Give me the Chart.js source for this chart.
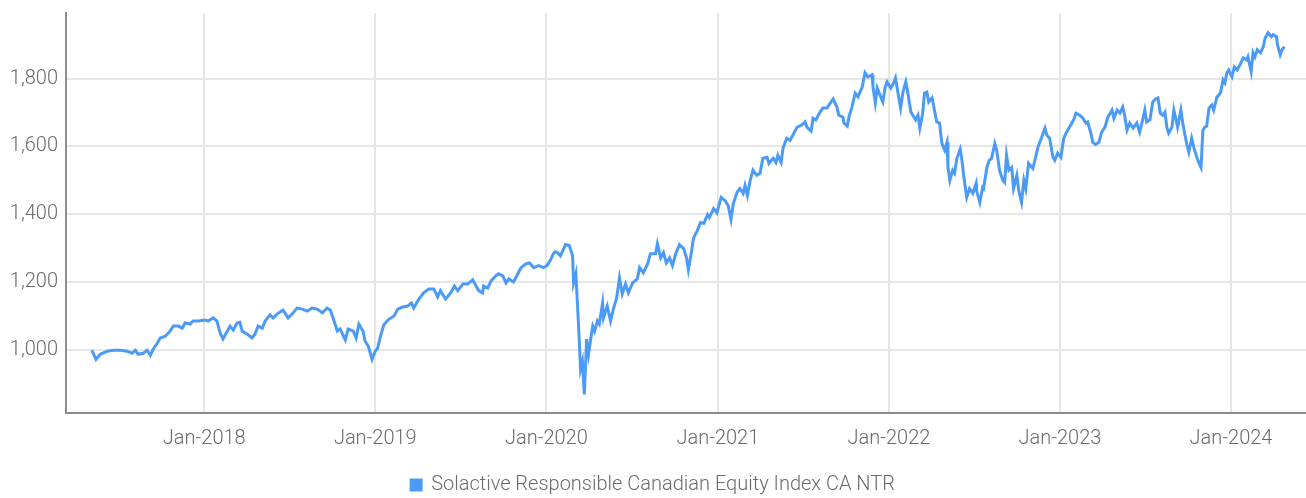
<!DOCTYPE html>
<html>
<head>
<meta charset="utf-8">
<script src="https://cdn.jsdelivr.net/npm/chart.js@4.4.0/dist/chart.umd.min.js"></script>
<style>
  html, body { margin: 0; padding: 0; background: #fff; }
  #wrap { width: 1306px; height: 498px; position: relative; }
</style>
</head>
<body>
<div id="wrap"><canvas id="chart"></canvas></div>
<script>
const seriesName = 'Solactive Responsible Canadian Equity Index CA NTR';

const dates = [
    // 2017
    '2017-05-06','2017-05-15','2017-05-24','2017-06-08','2017-06-21','2017-07-06','2017-07-20','2017-07-31',
    '2017-08-07','2017-08-13','2017-08-24','2017-09-01','2017-09-08','2017-09-14','2017-09-23','2017-09-29',
    '2017-10-10','2017-10-20','2017-10-27','2017-11-07','2017-11-15','2017-11-21','2017-12-02','2017-12-08',
    '2017-12-19',
    // 2018
    '2018-01-03','2018-01-09','2018-01-20','2018-01-28','2018-02-04','2018-02-10','2018-02-19','2018-02-25',
    '2018-03-04','2018-03-12','2018-03-18','2018-03-23','2018-04-03','2018-04-13','2018-04-19','2018-04-26',
    '2018-05-05','2018-05-11','2018-05-21','2018-05-28','2018-06-06','2018-06-18','2018-06-29','2018-07-08',
    '2018-07-18','2018-07-29','2018-08-09','2018-08-19','2018-08-30','2018-09-10','2018-09-20','2018-09-27',
    '2018-10-03','2018-10-12','2018-10-18','2018-10-29','2018-11-04','2018-11-15','2018-11-21','2018-11-27',
    '2018-12-06','2018-12-10','2018-12-17','2018-12-25',
    // 2019
    '2019-01-01','2019-01-06','2019-01-12','2019-01-19','2019-01-29','2019-02-10','2019-02-18','2019-02-28',
    '2019-03-11','2019-03-19','2019-03-24','2019-04-03','2019-04-14','2019-04-25','2019-05-06','2019-05-14',
    '2019-05-20','2019-05-31','2019-06-11','2019-06-19','2019-06-26','2019-07-07','2019-07-17','2019-07-28',
    '2019-08-04','2019-08-10','2019-08-18','2019-08-20','2019-08-29','2019-09-05','2019-09-15','2019-09-21',
    '2019-09-30','2019-10-07','2019-10-13','2019-10-23','2019-10-30','2019-11-08','2019-11-18','2019-11-26',
    '2019-12-05','2019-12-16','2019-12-26',
    // 2020
    '2020-01-03','2020-01-10','2020-01-16','2020-01-20','2020-01-25','2020-01-31','2020-02-11','2020-02-19',
    '2020-02-26','2020-02-28','2020-03-04','2020-03-07','2020-03-10','2020-03-14','2020-03-18','2020-03-22',
    '2020-03-27','2020-03-31','2020-04-05','2020-04-09','2020-04-13','2020-04-19','2020-04-23','2020-04-30',
    '2020-05-02','2020-05-10','2020-05-17','2020-05-23','2020-05-30','2020-06-05','2020-06-11','2020-06-18',
    '2020-06-24','2020-07-03','2020-07-13','2020-07-18','2020-07-26','2020-08-04','2020-08-10','2020-08-21',
    '2020-08-25','2020-09-01','2020-09-07','2020-09-13','2020-09-20','2020-09-26','2020-10-03','2020-10-11',
    '2020-10-20','2020-10-26','2020-10-30','2020-11-06','2020-11-10','2020-11-18','2020-11-25','2020-12-02',
    '2020-12-10','2020-12-14','2020-12-23','2020-12-30',
    // 2021
    '2021-01-08','2021-01-16','2021-01-23','2021-01-29','2021-02-03','2021-02-11','2021-02-17','2021-02-24',
    '2021-02-28','2021-03-05','2021-03-11','2021-03-17','2021-03-25','2021-04-01','2021-04-07','2021-04-16',
    '2021-04-20','2021-04-29','2021-05-05','2021-05-09','2021-05-16','2021-05-20','2021-05-28','2021-06-04',
    '2021-06-10','2021-06-19','2021-06-29','2021-07-06','2021-07-10','2021-07-19','2021-07-23','2021-07-29',
    '2021-08-07','2021-08-13','2021-08-22','2021-08-26','2021-09-04','2021-09-12','2021-09-16','2021-09-25',
    '2021-09-27','2021-10-04','2021-10-08','2021-10-14','2021-10-21','2021-10-27','2021-11-05','2021-11-11',
    '2021-11-17','2021-11-26','2021-11-28','2021-12-03','2021-12-07','2021-12-13','2021-12-19','2021-12-24',
    '2021-12-28',
    // 2022
    '2022-01-05','2022-01-11','2022-01-15','2022-01-20','2022-01-26','2022-01-31','2022-02-06','2022-02-10',
    '2022-02-17','2022-02-21','2022-02-27','2022-03-04','2022-03-08','2022-03-14','2022-03-18','2022-03-23',
    '2022-03-27','2022-04-03','2022-04-09','2022-04-13','2022-04-19','2022-04-24','2022-04-30','2022-05-05',
    '2022-05-07','2022-05-11','2022-05-17','2022-05-21','2022-05-26','2022-06-02','2022-06-05','2022-06-10',
    '2022-06-16','2022-06-22','2022-06-29','2022-07-06','2022-07-07','2022-07-14','2022-07-20','2022-07-22',
    '2022-07-29','2022-08-03','2022-08-08','2022-08-15','2022-08-19','2022-08-25','2022-09-01','2022-09-05',
    '2022-09-09','2022-09-14','2022-09-20','2022-09-24','2022-10-01','2022-10-05','2022-10-11','2022-10-16',
    '2022-10-20','2022-10-26','2022-11-04','2022-11-10','2022-11-15','2022-11-23','2022-11-30','2022-12-04',
    '2022-12-10','2022-12-17','2022-12-21','2022-12-27',
    // 2023
    '2023-01-03','2023-01-09','2023-01-15','2023-01-24','2023-01-30','2023-02-04','2023-02-12','2023-02-19',
    '2023-02-25','2023-03-01','2023-03-08','2023-03-12','2023-03-18','2023-03-25','2023-03-31','2023-04-07',
    '2023-04-13','2023-04-22','2023-04-26','2023-05-03','2023-05-09','2023-05-15','2023-05-19','2023-05-24',
    '2023-05-30','2023-06-06','2023-06-14','2023-06-20','2023-06-27','2023-07-01','2023-07-05','2023-07-12',
    '2023-07-18','2023-07-24','2023-07-29','2023-08-03','2023-08-08','2023-08-13','2023-08-17','2023-08-21',
    '2023-08-28','2023-09-01','2023-09-05','2023-09-09','2023-09-16','2023-09-20','2023-09-24','2023-09-29',
    '2023-10-03','2023-10-09','2023-10-14','2023-10-20','2023-10-24','2023-10-29','2023-11-02','2023-11-06',
    '2023-11-10','2023-11-15','2023-11-21','2023-11-25','2023-12-02','2023-12-06','2023-12-10','2023-12-15',
    '2023-12-19','2023-12-23','2023-12-27',
    // 2024
    '2024-01-03','2024-01-08','2024-01-14','2024-01-20','2024-01-27','2024-02-03','2024-02-06','2024-02-13',
    '2024-02-17','2024-02-21','2024-02-26','2024-03-04','2024-03-10','2024-03-14','2024-03-20','2024-03-27',
    '2024-03-31','2024-04-07','2024-04-09','2024-04-15','2024-04-19','2024-04-24'
];

const indexLevels = [
    // 2017
    1000, 973, 988, 997, 1000, 1000, 997, 991,
    1000, 988, 991, 1000, 985, 1003, 1021, 1036,
    1041, 1056, 1071, 1071, 1065, 1080, 1077, 1086,
    1086,
    // 2018
    1089, 1086, 1095, 1086, 1050, 1033, 1056, 1071,
    1059, 1080, 1082, 1056, 1047, 1036, 1047, 1071,
    1065, 1086, 1104, 1095, 1107, 1118, 1095, 1107,
    1124, 1121, 1115, 1124, 1121, 1110, 1124, 1118,
    1095, 1056, 1062, 1030, 1062, 1056, 1036, 1077,
    1056, 1027, 1012, 973,
    // 2019
    997, 1006, 1041, 1074, 1090, 1101, 1121, 1127,
    1130, 1139, 1124, 1148, 1169, 1180, 1180, 1157,
    1175, 1151, 1169, 1189, 1175, 1195, 1195, 1207,
    1189, 1175, 1169, 1189, 1183, 1204, 1219, 1225,
    1219, 1198, 1210, 1201, 1219, 1243, 1254, 1257,
    1243, 1249, 1243,
    // 2020
    1250, 1266, 1284, 1290, 1287, 1278, 1311, 1308,
    1278, 1198, 1225, 1145, 1065, 944, 967, 870,
    1033, 988, 1036, 1071, 1056, 1086, 1077, 1139,
    1095, 1130, 1086, 1121, 1154, 1213, 1166, 1195,
    1169, 1198, 1210, 1243, 1228, 1254, 1284, 1284,
    1314, 1272, 1287, 1257, 1272, 1249, 1284, 1311,
    1299, 1272, 1237, 1293, 1330, 1352, 1376, 1373,
    1399, 1391, 1417, 1405,
    // 2021
    1450, 1441, 1426, 1385, 1432, 1465, 1476, 1462,
    1485, 1456, 1500, 1530, 1515, 1521, 1565, 1568,
    1550, 1565, 1553, 1574, 1553, 1595, 1624, 1618,
    1633, 1657, 1663, 1672, 1657, 1645, 1683, 1678,
    1701, 1713, 1713, 1722, 1740, 1716, 1692, 1686,
    1669, 1660, 1688, 1716, 1757, 1746, 1775, 1817,
    1805, 1811, 1775, 1728, 1772, 1751, 1731, 1775,
    1790,
    // 2022
    1772, 1787, 1802, 1760, 1713, 1760, 1790, 1760,
    1701, 1692, 1678, 1692, 1654, 1698, 1757, 1760,
    1731, 1743, 1701, 1672, 1669, 1609, 1589, 1612,
    1538, 1500, 1530, 1521, 1565, 1592, 1568, 1509,
    1450, 1476, 1462, 1491, 1470, 1435, 1479, 1476,
    1538, 1559, 1565, 1609, 1589, 1530, 1500, 1494,
    1574, 1530, 1538, 1476, 1515, 1470, 1435, 1500,
    1476, 1550, 1535, 1568, 1598, 1627, 1654, 1633,
    1624, 1568, 1559, 1580,
    // 2023
    1568, 1624, 1642, 1663, 1678, 1698, 1692, 1683,
    1669, 1672, 1639, 1612, 1606, 1612, 1642, 1657,
    1686, 1707, 1683, 1707, 1698, 1716, 1692, 1648,
    1669, 1654, 1669, 1642, 1682, 1707, 1672, 1678,
    1731, 1740, 1743, 1698, 1692, 1701, 1657, 1639,
    1657, 1707, 1683, 1657, 1707, 1669, 1639, 1604,
    1583, 1624, 1595, 1568, 1553, 1538, 1648, 1657,
    1660, 1713, 1722, 1707, 1746, 1751, 1760, 1796,
    1787, 1817, 1825,
    // 2024
    1805, 1834, 1825, 1840, 1861, 1855, 1864, 1820,
    1876, 1864, 1885, 1876, 1894, 1920, 1935, 1923,
    1929, 1923, 1900, 1870, 1885, 1894
];

const yearTicks = [2018, 2019, 2020, 2021, 2022, 2023, 2024];
const valueTicks = [1000, 1200, 1400, 1600, 1800];

const lineColor = '#4b9bf6';
const gridColor = '#e6e6e6';
const axisColor = '#8c8c8c';
const textColor = '#6b6b6b';

Chart.defaults.font.family = 'Roboto, "Noto Sans", sans-serif';
Chart.defaults.font.size = 20;
Chart.defaults.font.weight = '300';
Chart.defaults.color = textColor;

const points = dates.map((d, i) => ({ x: Date.parse(d), y: indexLevels[i] }));

// keep tick labels from pushing the plot area inwards
const noLabelPadding = (scale) => {
    scale.paddingTop = 0;
    scale.paddingBottom = 0;
    scale.paddingLeft = 0;
    scale.paddingRight = 0;
};

const ctx = document.getElementById('chart');

new Chart(ctx, {
    type: 'line',
    data: {
        datasets: [{
            label: seriesName,
            data: points,
            borderColor: lineColor,
            backgroundColor: lineColor,
            borderWidth: 3,
            pointRadius: 0,
            tension: 0,
            fill: false
        }]
    },
    options: {
        responsive: true,
        maintainAspectRatio: false,
        animation: false,
        devicePixelRatio: 1,
        layout: { padding: { top: 13, right: 0, left: 0, bottom: -7 } },
        plugins: {
            legend: {
                position: 'bottom',
                labels: {
                    boxWidth: 10,
                    boxHeight: 10,
                    padding: 0,
                    color: textColor
                }
            },
            tooltip: { enabled: false }
        },
        scales: {
            x: {
                type: 'linear',
                min: Date.UTC(2017, 2, 12),
                max: Date.UTC(2024, 5, 9),
                afterBuildTicks: (scale) => {
                    scale.ticks = yearTicks.map(y => ({ value: Date.UTC(y, 0, 1) }));
                },
                afterFit: (scale) => {
                    scale.height = 62;
                    noLabelPadding(scale);
                },
                ticks: {
                    padding: 14,
                    maxRotation: 0,
                    callback: (v) => 'Jan-' + new Date(v).getUTCFullYear()
                },
                grid: { color: gridColor, lineWidth: 2, drawTicks: false },
                border: { color: axisColor, width: 2 }
            },
            y: {
                min: 815,
                max: 1993,
                afterBuildTicks: (scale) => {
                    scale.ticks = valueTicks.map(v => ({ value: v }));
                },
                afterFit: (scale) => {
                    scale.width = 66;
                    noLabelPadding(scale);
                },
                ticks: {
                    padding: 8,
                    callback: (v) => v.toLocaleString('en-US')
                },
                grid: { color: gridColor, lineWidth: 2, drawTicks: false },
                border: { color: axisColor, width: 2 }
            }
        }
    }
});
</script>
</body>
</html>
